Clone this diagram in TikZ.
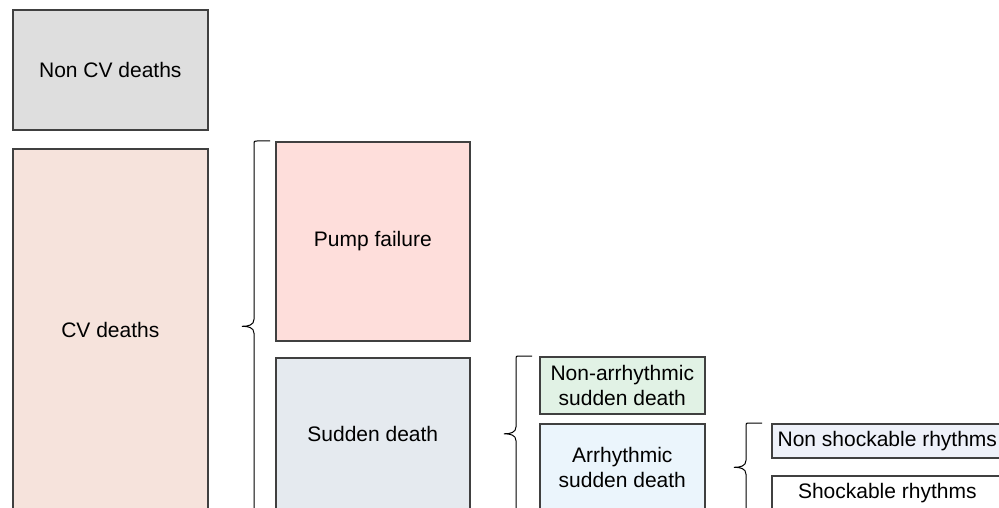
\documentclass[tikz,border=0pt]{standalone}
\usepackage{fontspec}
\setmainfont{Liberation Sans}
\usetikzlibrary{calc}
\definecolor{boxedge}{HTML}{404040}
\definecolor{noncvfill}{HTML}{DEDEDE}
\definecolor{cvfill}{HTML}{F6E3DC}
\definecolor{pumpfill}{HTML}{FEDEDB}
\definecolor{suddenfill}{HTML}{E5EAEF}
\definecolor{nonarrfill}{HTML}{E1F2E5}
\definecolor{arrfill}{HTML}{EBF5FC}
\definecolor{nonshockfill}{HTML}{EEF1F9}
% left curly brace between two end points, tip in the middle
\newcommand{\leftcurly}[2]{%
\draw [curly] let \p1=(#1), \p2=(#2), \p3=($(#1)!0.5!(#2)$) in
  (\p1) -- (\x1-13pt,\y1) .. controls (\x1-16pt,\y1) .. (\x1-16pt,\y1-3pt)
  -- (\x1-16pt,\y3+7pt) .. controls (\x1-16pt,\y3+1pt) and (\x1-22pt,\y3) .. (\x1-28pt,\y3)
  .. controls (\x1-22pt,\y3) and (\x1-16pt,\y3-1pt) .. (\x1-16pt,\y3-7pt)
  -- (\x1-16pt,\y2+3pt) .. controls (\x1-16pt,\y2) .. (\x1-13pt,\y2) -- (\p2);}

\begin{document}
\begin{tikzpicture}[x=1pt,y=-1pt]
\tikzstyle{every node}+=[inner sep=0pt, align=center, font=\fontsize{21}{25}\selectfont]
\tikzstyle{box}=[draw=boxedge, line width=1.6pt, anchor=north west]
\tikzstyle{curly}=[black, line width=1pt]
\clip (0,0) rectangle (999,508);
% first level
\node [box, fill=noncvfill, minimum width=195pt, minimum height=120pt] (noncv) at (12,9) {Non CV deaths};
\node [box, fill=cvfill, minimum width=195pt, minimum height=362pt] (cv) at (12,148) {CV deaths};
% second level
\node [box, fill=pumpfill, minimum width=194pt, minimum height=199pt] (pump) at (275,141) {Pump failure};
\node [box, fill=suddenfill, minimum width=194pt, minimum height=153pt] (sudden) at (275,357) {Sudden death};
\leftcurly{[xshift=-5pt]pump.north west}{[xshift=-5pt]sudden.south west}
% third level
\node [box, fill=nonarrfill, minimum width=165pt, minimum height=57pt] (nonarr) at (539,356) {Non-arrhythmic\\sudden death};
\node [box, fill=arrfill, minimum width=165pt, minimum height=87pt] (arr) at (539,423) {Arrhythmic\\sudden death};
\leftcurly{[xshift=-7pt]nonarr.north west}{[xshift=-7pt]arr.south west}
% fourth level
\node [box, fill=nonshockfill, minimum width=231pt, minimum height=34pt] (nonshock) at (771,423) {Non shockable rhythms};
\node [box, fill=white, minimum width=231pt, minimum height=35pt] (shock) at (771,475) {Shockable rhythms};
\leftcurly{[xshift=-9pt]nonshock.north west}{[xshift=-9pt]shock.south west}
\end{tikzpicture}
\end{document}
